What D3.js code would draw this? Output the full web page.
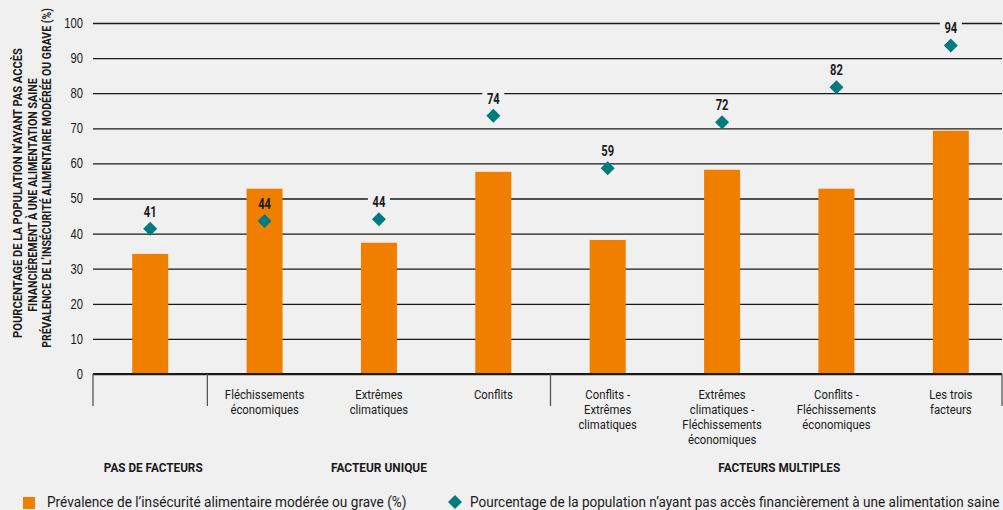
<!DOCTYPE html>
<html><head><meta charset="utf-8">
<script src="https://cdn.jsdelivr.net/npm/d3@7"></script>
<style>
html,body{margin:0;padding:0;background:#f0f0f0;}
svg{display:block;font-family:"Roboto","Liberation Sans",sans-serif;}
</style></head><body>
<svg id="c" width="1003" height="510"></svg>
<script>
const categories = [
  ["", ""],
  ["Fléchissements", "économiques"],
  ["Extrêmes", "climatiques"],
  ["Conflits"],
  ["Conflits -", "Extrêmes", "climatiques"],
  ["Extrêmes", "climatiques -", "Fléchissements", "économiques"],
  ["Conflits -", "Fléchissements", "économiques"],
  ["Les trois", "facteurs"]
];
const prevalence = [34.2, 52.8, 37.4, 57.6, 38.2, 58.2, 52.8, 69.3];
const noAccess = [41.4, 43.6, 44.1, 73.6, 58.6, 71.7, 81.7, 93.6];
const groups = [
  {label: "PAS DE FACTEURS", start: 0, end: 0},
  {label: "FACTEUR UNIQUE", start: 1, end: 3},
  {label: "FACTEURS MULTIPLES", start: 4, end: 7}
];
const yTicks = [0, 10, 20, 30, 40, 50, 60, 70, 80, 90, 100];
const yTitle = [
  "POURCENTAGE DE LA POPULATION N’AYANT PAS ACCÈS",
  "FINANCIÈREMENT À UNE ALIMENTATION SAINE",
  "PRÉVALENCE DE L’INSÉCURITÉ ALIMENTAIRE MODÉRÉE OU GRAVE (%)"
];
const legendLabels = [
  "Prévalence de l’insécurité alimentaire modérée ou grave (%)",
  "Pourcentage de la population n’ayant pas accès financièrement à une alimentation saine"
];

(function(){
const ORANGE = "#f07f00", TEAL = "#007b7f", BG = "#f0f0f0", INK = "#1a1a1a";
const svg = d3.select("#c");
const mLeft = 93, mRight = 1002, mTop = 23, mBottom = 374;
const idx = d3.range(categories.length);
const x = d3.scaleBand().domain(idx).range([mLeft, 1008]).paddingInner(0).paddingOuter(0);
const y = d3.scaleLinear().domain([0, 100]).range([mBottom, mTop]);
const barW = 36;
const cxOf = i => x(i) + x.bandwidth() / 2;

// text squeezed horizontally via transform (factor <= 1, or target width if opt.width)
function ctext(parent, str, px, py, o) {
  const t = parent.append("text").attr("x", 0).attr("y", 0)
    .attr("text-anchor", o.anchor || "middle").attr("dominant-baseline", "central")
    .attr("font-size", o.size).attr("font-weight", o.bold ? "bold" : "normal")
    .attr("fill", INK).text(str);
  const w = t.node().getComputedTextLength();
  const f = o.width ? o.width / w : o.factor;
  t.attr("transform", `translate(${px},${py}) rotate(${o.rot || 0}) scale(${f},1)`);
  return t;
}

const yAxis = d3.axisLeft(y).tickValues(yTicks).tickSize(-(mRight - mLeft)).tickPadding(10);
const gy = svg.append("g").attr("transform", `translate(${mLeft},0)`).call(yAxis);
gy.select(".domain").remove();
gy.selectAll(".tick line").attr("stroke", INK).attr("stroke-width", 1.3);
gy.selectAll(".tick text").attr("font-size", 14).attr("fill", INK).attr("font-family", "inherit")
  .each(function() {
    const w = this.getComputedTextLength();
    d3.select(this).attr("textLength", w * 0.8).attr("lengthAdjust", "spacingAndGlyphs");
  });

// label backgrounds (break gridlines), drawn beneath bars
svg.append("g").selectAll("rect").data(noAccess).join("rect")
  .attr("x", (d, i) => cxOf(i) - 11).attr("y", d => y(d) - 26)
  .attr("width", 22).attr("height", 18).attr("fill", BG);

svg.append("g").selectAll("rect").data(prevalence).join("rect")
  .attr("x", (d, i) => cxOf(i) - barW / 2)
  .attr("width", barW)
  .attr("y", d => y(d))
  .attr("height", d => y(0) - y(d))
  .attr("fill", ORANGE);

svg.append("line").attr("x1", mLeft).attr("x2", mRight).attr("y1", y(0)).attr("y2", y(0))
  .attr("stroke", INK).attr("stroke-width", 2);

const sepX = [mLeft, x(1), x(4), mRight];
svg.append("g").selectAll("line").data(sepX).join("line")
  .attr("x1", d => d).attr("x2", d => d)
  .attr("y1", y(0)).attr("y2", 406)
  .attr("stroke", "#555").attr("stroke-width", 1.3);

const dsz = 7;
svg.append("g").selectAll("path").data(noAccess).join("path")
  .attr("d", `M0,${-dsz}L${dsz},0L0,${dsz}L${-dsz},0Z`)
  .attr("transform", (d, i) => `translate(${cxOf(i)},${y(d)})`)
  .attr("fill", TEAL);
const vg = svg.append("g");
noAccess.forEach((d, i) => ctext(vg, d3.format(".0f")(d), cxOf(i), y(d) - 17, {size: 14, bold: true, factor: 0.8}));

const cg = svg.append("g");
categories.forEach((lines, i) => {
  lines.forEach((l, j) => {
    if (l) ctext(cg, l, cxOf(i), 394 + j * 15, {size: 13.5, factor: 0.84});
  });
});

const groupW = [99, 96, 122];
const gg = svg.append("g");
groups.forEach((g, i) => {
  const gx = (x(g.start) + x(g.end) + x.bandwidth()) / 2 + (g.start === 0 ? 3 : 0);
  ctext(gg, g.label, gx, 467, {size: 13.5, bold: true, width: groupW[i]});
});

const titlePos = [[18, 193], [33, 195], [47, 178]];
const titleW = [290, 234, 340];
const tg = svg.append("g");
yTitle.forEach((t, i) => ctext(tg, t, titlePos[i][0], titlePos[i][1], {size: 13, bold: true, rot: -90, width: titleW[i]}));

const leg = svg.append("g");
leg.append("rect").attr("x", 23).attr("y", 497).attr("width", 12).attr("height", 12).attr("fill", ORANGE);
ctext(leg, legendLabels[0], 47, 502, {size: 14.5, anchor: "start", width: 360});
leg.append("path").attr("d", "M0,-7L7,0L0,7L-7,0Z").attr("transform", "translate(455,502)").attr("fill", TEAL);
ctext(leg, legendLabels[1], 470, 502, {size: 14.5, anchor: "start", width: 530});
})();
</script>
</body></html>
